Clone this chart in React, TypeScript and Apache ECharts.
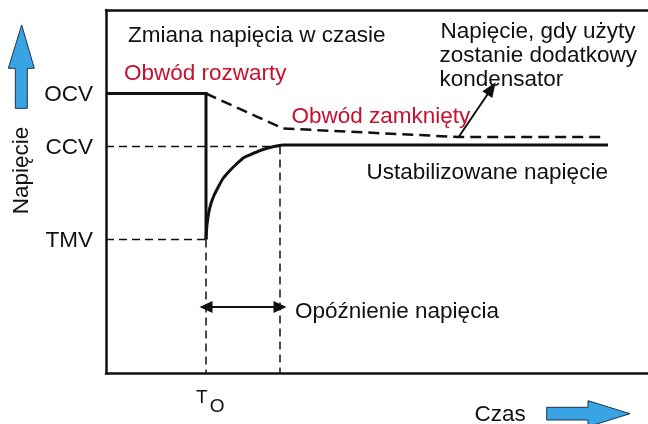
import React, { useEffect, useRef } from 'react';
import * as echarts from 'echarts';

// Voltage levels (arbitrary units) and their names
const levelNames = ['TMV', 'CCV', 'OCV'];
const levelValues = [13.4, 22.7, 28.0];

// Time markers (arbitrary units)
const t0 = 10;
const tDelayEnd = 17.4;
const timeMax = 54.2;
const voltMax = 36.35;

// Open circuit: constant OCV until T0, then drop to TMV
const openTime = [0, 10, 10];
const openVolt = [28.0, 28.0, 13.4];

// Recovery from TMV to the stabilised voltage
const recoveryTime = [10, 10.05, 10.15, 10.3, 10.5, 10.8, 11.2, 11.7, 12.3, 13.0, 13.8, 14.7, 15.7, 16.7, 17.7, 50.2];
const recoveryVolt = [13.4, 14.3, 15.3, 16.2, 17.0, 17.8, 18.6, 19.5, 20.2, 20.9, 21.6, 22.0, 22.4, 22.68, 22.85, 22.85];

// Voltage with an extra capacitor (dashed)
const capTime = [10, 17.7, 35.3, 49.9];
const capVolt = [28.0, 24.5, 23.65, 23.65];

// Annotation arrow (from the dashed line to the note)
const noteArrowFrom = [35.3, 23.7];
const noteArrowTo = [38.55, 28.5];

// Delay arrow height
const delayArrowVolt = 6.65;

const zip = (a: number[], b: number[]) => a.map((v, i) => [v, b[i]]);

const INK = '#111111';
const RED = '#c8102e';
const BLUE = '#3aa3e3';
const FONT = 'Liberation Sans, Arial, sans-serif';
const FS = 22.5;

export default function App() {
  const ref = useRef<HTMLDivElement>(null);
  useEffect(() => {
    if (!ref.current) return;
    const chart = echarts.init(ref.current, undefined, { renderer: 'svg' });
    const guide = { color: INK, width: 1.5, type: [8, 5] as any };
    const txt = (text: string, x: number, y: number, fill = INK) => ({
      type: 'text',
      x,
      y,
      style: {
        text,
        fill,
        font: `${FS}px ${FONT}`,
        verticalAlign: 'middle',
        align: 'left',
      },
      silent: true,
    });
    chart.setOption({
      animation: false,
      grid: { left: 106, right: 0, top: 10, bottom: 50.5, containLabel: false },
      xAxis: [
        {
          type: 'value',
          min: 0,
          max: timeMax,
          axisLine: { show: true, lineStyle: { color: INK, width: 2.5 } },
          axisTick: { show: false },
          axisLabel: { show: false },
          splitLine: { show: false },
        },
        {
          type: 'value',
          position: 'top',
          min: 0,
          max: timeMax,
          axisLine: { show: true, lineStyle: { color: INK, width: 2.5 } },
          axisTick: { show: false },
          axisLabel: { show: false },
          splitLine: { show: false },
        },
      ],
      yAxis: {
        type: 'value',
        min: 0,
        max: voltMax,
        axisLine: { show: true, lineStyle: { color: INK, width: 2.5 } },
        axisTick: { show: false },
        splitLine: { show: false },
        axisLabel: {
          show: true,
          customValues: levelValues,
          formatter: (v: number) => {
            const i = levelValues.findIndex((x) => Math.abs(x - v) < 1e-6);
            return i >= 0 ? levelNames[i] : '';
          },
          color: INK,
          fontSize: FS,
          fontFamily: FONT,
          margin: 13,
          padding: [4, 0, 0, 0],
        },
      },
      series: [
        {
          type: 'line',
          data: zip(openTime, openVolt),
          symbol: 'none',
          lineStyle: { color: INK, width: 3, join: 'miter' },
          silent: true,
        },
        {
          type: 'line',
          data: zip(recoveryTime, recoveryVolt),
          symbol: 'none',
          smooth: 0.2,
          lineStyle: { color: INK, width: 3 },
          silent: true,
        },
        {
          type: 'line',
          data: zip(capTime, capVolt),
          symbol: 'none',
          lineStyle: { color: INK, width: 2.5, type: [11, 6] },
          silent: true,
        },
        {
          type: 'line',
          data: [[0, levelValues[1]], [tDelayEnd, levelValues[1]]],
          symbol: 'none',
          lineStyle: guide,
          silent: true,
        },
        {
          type: 'line',
          data: [[0, levelValues[0]], [t0, levelValues[0]]],
          symbol: 'none',
          lineStyle: guide,
          silent: true,
        },
        {
          type: 'line',
          data: [[t0, levelValues[0]], [t0, 0]],
          symbol: 'none',
          lineStyle: guide,
          silent: true,
        },
        {
          type: 'line',
          data: [[tDelayEnd, levelValues[1]], [tDelayEnd, 0]],
          symbol: 'none',
          lineStyle: guide,
          silent: true,
          markLine: {
            silent: true,
            animation: false,
            label: { show: false },
            lineStyle: { color: INK, width: 2, type: 'solid' },
            data: [
              [
                { coord: [t0, delayArrowVolt], symbol: 'triangle', symbolSize: [12, 13] },
                { coord: [tDelayEnd, delayArrowVolt], symbol: 'triangle', symbolSize: [12, 13] },
              ],
              [
                { coord: noteArrowFrom, symbol: 'none' },
                { coord: noteArrowTo, symbol: 'triangle', symbolSize: [12, 15] },
              ],
            ],
          },
        },
      ],
      graphic: [
        {
          type: 'polygon',
          shape: {
            points: [
              [21.7, 25], [34.3, 68.3], [27.3, 68.3], [27.3, 108.3],
              [15.3, 108.3], [15.3, 68.3], [8.3, 68.3],
            ],
          },
          style: { fill: BLUE, stroke: '#1d3550', lineWidth: 1 },
          silent: true,
        },
        {
          type: 'polygon',
          shape: {
            points: [
              [546.7, 407.3], [588, 407.3], [588, 400.7], [630, 413.7],
              [588, 426.7], [588, 420], [546.7, 420],
            ],
          },
          style: { fill: BLUE, stroke: '#1d3550', lineWidth: 1 },
          silent: true,
        },
        {
          type: 'text',
          x: 20.8,
          y: 170.5,
          rotation: Math.PI / 2,
          style: {
            text: 'Napięcie',
            fill: INK,
            font: `${FS}px ${FONT}`,
            align: 'center',
            verticalAlign: 'middle',
          },
          silent: true,
        },
        txt('Zmiana napięcia w czasie', 128, 34),
        txt('Obwód rozwarty', 124, 72, RED),
        txt('Obwód zamknięty', 291.5, 115, RED),
        txt('Napięcie, gdy użyty', 440.5, 30),
        txt('zostanie dodatkowy', 439.5, 54.5),
        txt('kondensator', 439.5, 78.5),
        txt('Ustabilizowane napięcie', 366.5, 171),
        txt('Opóźnienie napięcia', 295, 310.5),
        txt('Czas', 474.5, 413),
        {
          type: 'text',
          x: 201.7,
          y: 396.5,
          style: { text: 'T', fill: INK, font: `19px ${FONT}`, align: 'center', verticalAlign: 'middle' },
          silent: true,
        },
        {
          type: 'text',
          x: 209.7,
          y: 405.5,
          style: { text: 'O', fill: INK, font: `19px ${FONT}`, align: 'left', verticalAlign: 'middle' },
          silent: true,
        },
      ],
    });
    return () => chart.dispose();
  }, []);
  return <div ref={ref} style={{ width: 648, height: 424, position: 'fixed', left: 0, top: 0 }} />;
}
